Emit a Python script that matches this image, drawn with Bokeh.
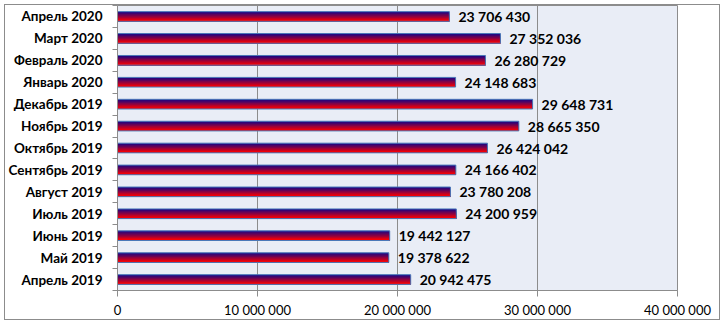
from bokeh.plotting import figure
from bokeh.models import Range1d, FixedTicker, ColumnDataSource
from bokeh.embed import file_html
from bokeh.resources import INLINE
from bokeh.core.properties import value

# ---- data (bottom to top) ----
months = ["Апрель 2019", "Май 2019", "Июнь 2019", "Июль 2019", "Август 2019",
          "Сентябрь 2019", "Октябрь 2019", "Ноябрь 2019", "Декабрь 2019",
          "Январь 2020", "Февраль 2020", "Март 2020", "Апрель 2020"]
values = [20942475, 19378622, 19442127, 24200959, 23780208,
          24166402, 26424042, 28665350, 29648731,
          24148683, 26280729, 27352036, 23706430]
x_ticks = [0, 10000000, 20000000, 30000000, 40000000]
x_tick_labels = ["0", "10 000 000", "20 000 000", "30 000 000", "40 000 000"]

n = len(months)
ypos = [i + 0.5 for i in range(n)]
labels = ["{:,}".format(v).replace(",", " ") for v in values]

p = figure(width=716, height=316, output_backend="svg", toolbar_location=None,
           x_range=Range1d(0, 40000000), y_range=Range1d(0, n),
           min_border_left=111, min_border_right=44, min_border_top=0,
           min_border_bottom=31)
p.margin = (4, 0, 0, 4)
p.styles = {"border": "1px solid #8C8C8C", "box-sizing": "border-box"}
p.background_fill_color = "#E9EDF6"
p.border_fill_color = "white"
p.outline_line_color = "#8C8C8C"
p.outline_line_width = 1

# grid
p.ygrid.grid_line_color = None
p.xgrid.grid_line_color = "#8C8C8C"
p.xgrid.ticker = FixedTicker(ticks=x_ticks)

# x axis
p.xaxis.ticker = FixedTicker(ticks=x_ticks)
p.xaxis.major_label_overrides = {t: l for t, l in zip(x_ticks, x_tick_labels)}
p.xaxis.axis_line_color = "#8C8C8C"
p.xaxis.major_tick_line_color = "#8C8C8C"
p.xaxis.major_tick_out = 6
p.xaxis.major_tick_in = 0
p.xaxis.minor_tick_line_color = None
p.xaxis.major_label_text_font = "Lato"
p.xaxis.major_label_text_font_size = "13px"
p.xaxis.major_label_text_color = "black"
p.xaxis.major_label_standoff = 5

# y axis
p.yaxis.ticker = FixedTicker(ticks=ypos, minor_ticks=list(range(n + 1)))
p.yaxis.major_label_overrides = {y: m for y, m in zip(ypos, months)}
p.yaxis.axis_line_color = "#8C8C8C"
p.yaxis.major_tick_line_color = None
p.yaxis.major_tick_out = 0
p.yaxis.major_tick_in = 0
p.yaxis.minor_tick_line_color = "#8C8C8C"
p.yaxis.minor_tick_out = 5
p.yaxis.minor_tick_in = 0
p.yaxis.major_label_text_font = "Lato"
p.yaxis.major_label_text_font_style = "bold"
p.yaxis.major_label_text_font_size = "13.5px"
p.yaxis.major_label_text_color = "black"
p.yaxis.major_label_standoff = 10

# bars: vertical gradient simulated with nested strips anchored at the bar bottom
bar_h = 0.44
nstrips = 8
top_rgb = (30, 5, 130)
bot_rgb = (255, 0, 0)
src = ColumnDataSource(dict(y=ypos, v=values, lab=labels))
sh = bar_h / nstrips
for k in range(nstrips):
    t = k / (nstrips - 1)
    r = int(top_rgb[0] + (bot_rgb[0] - top_rgb[0]) * t)
    g = int(top_rgb[1] + (bot_rgb[1] - top_rgb[1]) * t)
    b = int(top_rgb[2] + (bot_rgb[2] - top_rgb[2]) * t)
    col = "#%02x%02x%02x" % (r, g, b)
    h = bar_h - k * sh
    ys = [y - bar_h / 2 + h / 2 for y in ypos]
    p.hbar(y=ys, right=values, left=0, height=h,
           fill_color=col, line_color=None)
p.hbar(y="y", right="v", left=0, height=bar_h, source=src,
       fill_color=None, line_color="#4A78B8", line_width=1)

# value labels
p.text(x="v", y="y", text="lab", source=src, x_offset=9,
       text_baseline="middle", text_align="left",
       text_font=value("Lato"), text_font_style="bold",
       text_font_size="14px", text_color="black")

open("out.html", "w").write(file_html(p, INLINE))
